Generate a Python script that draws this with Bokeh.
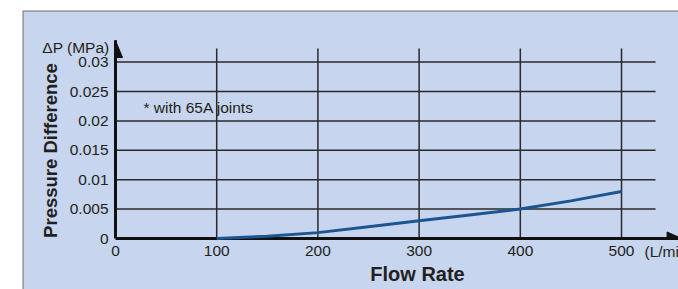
import math
from bokeh.plotting import figure
from bokeh.models import Range1d
from bokeh.core.properties import value
from bokeh.embed import file_html
from bokeh.resources import INLINE

# ---- data ----
flow = [100, 150, 200, 250, 300, 350, 400, 450, 500]
dp = [0.0, 0.0004, 0.001, 0.002, 0.003, 0.004, 0.005, 0.0064, 0.008]

x_ticks = [0, 100, 200, 300, 400, 500]
x_tick_labels = ["0", "100", "200", "300", "400", "500"]
y_ticks = [0, 0.005, 0.01, 0.015, 0.02, 0.025, 0.03]
y_tick_labels = ["0", "0.005", "0.01", "0.015", "0.02", "0.025", "0.03"]

x_title = "Flow Rate"
y_title = "Pressure Difference"
y_unit = "ΔP (MPa)"
x_unit = "(L/min)"
note = "* with 65A joints"

# ---- geometry (data units) ----
X0, X1 = -91.9, 556.3
Y0, Y1 = -0.008673, 0.038776
px_x = 1.012     # px per x unit
px_y = 5880.0    # px per y unit
x_grid_top = 0.0323
y_grid_right = 533.6
x_axis_end = 560
y_axis_end = 0.0337

BG = "#c7d5ee"
TXT = "#231f20"
FONT = "Liberation Sans"

p = figure(width=678, height=289, output_backend="svg", toolbar_location=None,
           x_range=Range1d(X0, X1), y_range=Range1d(Y0, Y1))
p.min_border_left = 22
p.min_border_top = 10
p.min_border_right = 0
p.min_border_bottom = 0
p.xaxis.visible = False
p.yaxis.visible = False
p.xgrid.visible = False
p.ygrid.visible = False
p.background_fill_color = BG
p.border_fill_color = "white"
p.outline_line_color = None

# panel border (top and left)
p.line(x=[X0, X1], y=[Y1, Y1], line_color="#8c8c8c", line_width=2.5)
p.line(x=[X0, X0], y=[Y0, Y1], line_color="#8c8c8c", line_width=2.5)

# grid lines
vx = x_ticks[1:]
p.segment(x0=vx, y0=[0] * len(vx), x1=vx, y1=[x_grid_top] * len(vx),
          line_color="#2a2a2a", line_width=1.5)
hy = y_ticks[1:]
p.segment(x0=[0] * len(hy), y0=hy, x1=[y_grid_right] * len(hy), y1=hy,
          line_color="#2a2a2a", line_width=1.5)

# axes lines
p.line(x=[0, x_axis_end], y=[0, 0], line_color="#111111", line_width=3)
p.line(x=[0, 0], y=[0, y_axis_end], line_color="#111111", line_width=3)

# arrowheads (half triangles)
tip_y = 0.03367
p.patch(x=[0, 7 / px_x, -1 / px_x], y=[tip_y, tip_y - 17 / px_y, tip_y - 17 / px_y],
        fill_color="#111111", line_color="#111111", line_width=1)
base_x = 545.0
p.patch(x=[base_x, base_x, base_x + 17 / px_x], y=[-1 / px_y, 6.5 / px_y, -1 / px_y],
        fill_color="#111111", line_color="#111111", line_width=1)

# curve
p.line(x=flow, y=dp, line_color="#1d5591", line_width=3)

# tick labels
p.text(x=[-7 / px_x] * len(y_ticks), y=y_ticks, text=y_tick_labels,
       text_font=value(FONT), text_font_size=value("15.5px"), text_color=TXT,
       text_align="right", text_baseline="middle")
p.text(x=x_ticks, y=[-12.5 / px_y] * len(x_ticks), text=x_tick_labels,
       text_font=value(FONT), text_font_size=value("15.5px"), text_color=TXT,
       text_align="center", text_baseline="middle")

# other texts
p.text(x=[-6 / px_x], y=[191 / px_y], text=[y_unit],
       text_font=value(FONT), text_font_size=value("15.5px"), text_color=TXT,
       text_align="right", text_baseline="middle")
p.text(x=[28 / px_x], y=[131 / px_y], text=[note],
       text_font=value(FONT), text_font_size=value("15.5px"), text_color=TXT,
       text_align="left", text_baseline="middle")
p.text(x=[529 / px_x], y=[-12.5 / px_y], text=[x_unit],
       text_font=value(FONT), text_font_size=value("15.5px"), text_color=TXT,
       text_align="left", text_baseline="middle")
p.text(x=[302 / px_x], y=[-35 / px_y], text=[x_title],
       text_font=value(FONT), text_font_size=value("20px"), text_font_style="bold",
       text_color=TXT, text_align="center", text_baseline="middle")
p.text(x=[-65 / px_x], y=[88 / px_y], text=[y_title], angle=math.pi / 2,
       text_font=value(FONT), text_font_size=value("18.5px"), text_font_style="bold",
       text_color=TXT, text_align="center", text_baseline="middle")

open("out.html", "w").write(file_html(p, INLINE))
